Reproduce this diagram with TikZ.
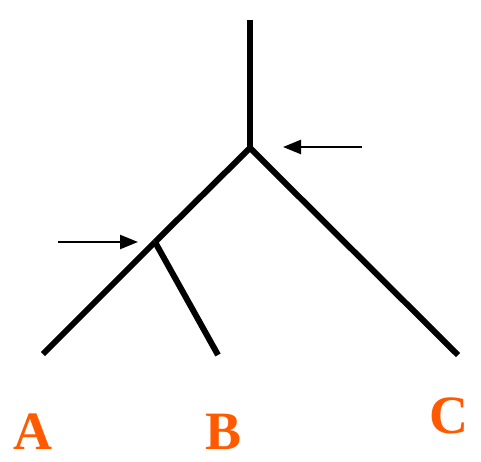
\documentclass[tikz,border=0pt]{standalone}
\usepackage{fontspec}
\setmainfont{Liberation Serif}
\usetikzlibrary{arrows.meta}
\definecolor{lab}{HTML}{FF5A00}
\begin{document}
\begin{tikzpicture}[x=1pt,y=-1pt,
  branch/.style={line width=6pt},
  pointer/.style={line width=2.5pt,-{Triangle[length=18pt,width=14pt]}},
  leaf/.style={text=lab,font=\fontsize{54}{54}\selectfont\bfseries,inner sep=0pt,anchor=base}]
\useasboundingbox (0,0) rectangle (481,462);
\coordinate (top) at (250,20);
\coordinate (root) at (250,148);
\coordinate (ab) at (155,242);
\coordinate (a) at (43,354);
\coordinate (b) at (218,355);
\coordinate (c) at (458,355);
\draw[branch] (top) -- (root);
\draw[branch] (root) -- (c);
\draw[branch] (root) -- (ab);
\draw[branch] (ab) -- (a);
\draw[branch] (ab) -- (b);
\coordinate (p1s) at (362,147);
\coordinate (p1e) at (283,147);
\coordinate (p2s) at (58,242);
\coordinate (p2e) at (138,242);
\draw[pointer] (p1s) -- (p1e);
\draw[pointer] (p2s) -- (p2e);
\node[leaf] (la) at (33,449) {A};
\node[leaf] (lb) at (224,449) {B};
\node[leaf] (lc) at (449,433) {C};
\end{tikzpicture}
\end{document}
